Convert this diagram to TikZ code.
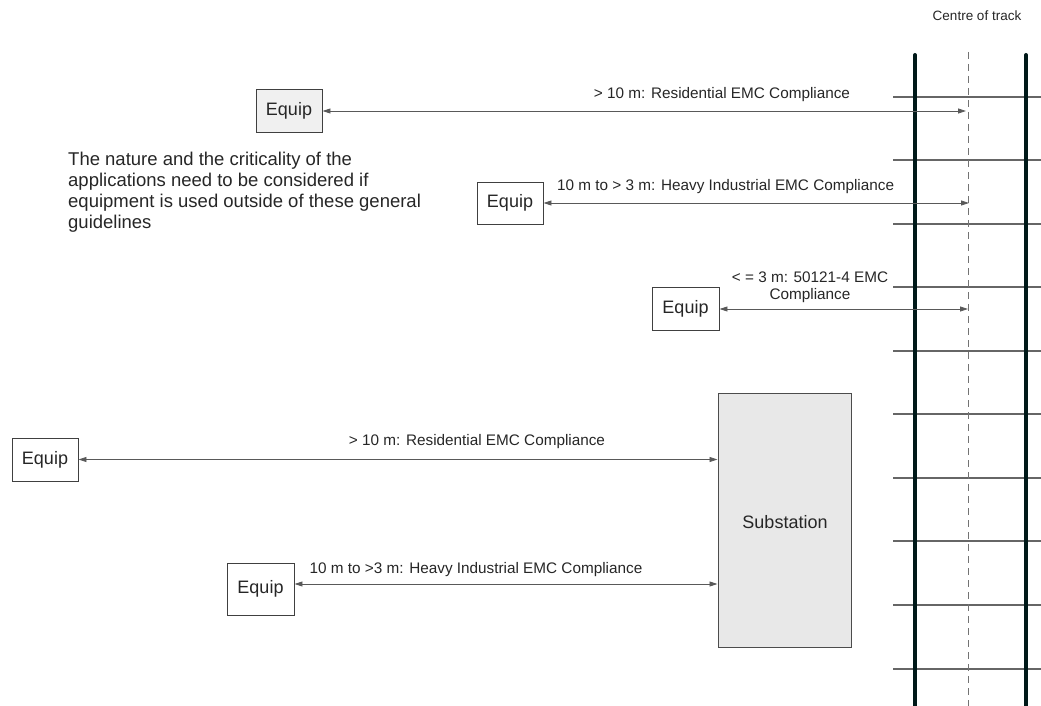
\documentclass[tikz,border=0pt]{standalone}
\usepackage{fontspec}
\setmainfont{Liberation Sans}
\usetikzlibrary{arrows.meta}
\begin{document}
\begin{tikzpicture}[x=1pt,y=-1pt,
  equip/.style={draw=black!75,line width=0.9pt,minimum width=66pt,minimum height=43pt,inner sep=0pt,font=\fontsize{18}{20}\selectfont,text=black!85},
  lbl/.style={font=\fontsize{15.3}{17}\selectfont,text=black!85,inner sep=0pt,align=center},
  conn/.style={draw=black!65,line width=0.8pt,{Triangle[length=8pt,width=5pt]}-{Triangle[length=8pt,width=5pt]}},
  rail/.style={draw=black!80!teal,line width=4pt,line cap=round},
  sleeper/.style={draw=black!60,line width=1.1pt},
  centreline/.style={draw=black!55,line width=0.8pt,dash pattern=on 7pt off 5pt}]
\useasboundingbox (0,0) rectangle (1041,706);
% track
\foreach \yy in {97,160,224,287,351,414,478,541,605,669}
  \draw[sleeper] (893,\yy) -- (1041,\yy);
\draw[centreline] (968,52) -- (968,706);
\draw[rail] (915,55) -- (915,712);
\draw[rail] (1026,55) -- (1026,712);
\node[font=\fontsize{13.5}{15}\selectfont,text=black!85] (cot) at (977,16) {Centre of track};
% substation
\node[draw=black!70,fill=black!9,line width=1pt,minimum width=133pt,minimum height=254pt,inner sep=0pt] (sub) at (784.5,520) {};
\node[font=\fontsize{18}{20}\selectfont,text=black!85] (subt) at (785,522) {Substation};
% equipment boxes
\node[equip,fill=black!6] (e1) at (289,111) {Equip};
\node[equip,minimum height=42pt] (e2) at (510,203) {Equip};
\node[equip,minimum width=67pt] (e3) at (685.5,308.5) {Equip};
\node[equip] (e4) at (45,459.5) {Equip};
\node[equip,minimum width=67pt,minimum height=52pt] (e5) at (260.5,589) {Equip};
% arrow end points on centre line
\coordinate (c1) at (966,111);
\coordinate (c2) at (969,203);
\coordinate (c3) at (968,309);
\draw[conn] (e1.east) -- (c1);
\draw[conn] (e2.east) -- (c2);
\draw[conn] (e3.east |- c3) -- (c3);
\draw[conn] (e4.east) -- (e4.east -| sub.west);
\draw[conn] (e5.east |- 0,584) -- (sub.west |- 0,584);
% labels
\node[lbl] (l1) at (722,95) {> 10 m: Residential EMC Compliance};
\node[lbl,anchor=west] (l2) at (557,187) {10 m to > 3 m: Heavy Industrial EMC Compliance};
\node[lbl] (l3) at (810,287) {< = 3 m: 50121-4 EMC\\Compliance};
\node[lbl] (l4) at (477,442) {> 10 m: Residential EMC Compliance};
\node[lbl] (l5) at (476,570) {10 m to >3 m: Heavy Industrial EMC Compliance};
% paragraph
\node[anchor=north west,align=left,inner sep=0pt,font=\fontsize{18.5}{21}\selectfont,text=black!85] (para) at (68,152)
 {The nature and the criticality of the\\applications need to be considered if\\equipment is used outside of these general\\guidelines};
\end{tikzpicture}
\end{document}
